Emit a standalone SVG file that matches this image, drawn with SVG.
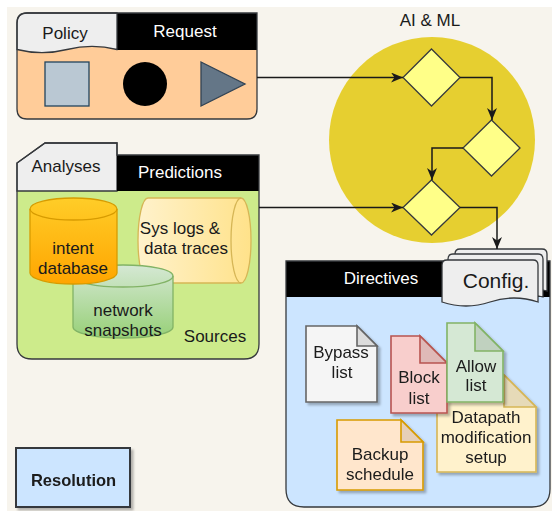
<svg xmlns="http://www.w3.org/2000/svg" width="552" height="511" viewBox="0 0 552 511">
  <defs>
    <style>
      text { font-family: "Liberation Sans", Arial, sans-serif; font-size: 17px; fill: #1a1a1a; text-anchor: middle; }
      .hdr { fill: #ffffff; }
      .bold { font-weight: bold; }
      .outline { fill: none; stroke: #36393d; stroke-width: 1.3; }
      .wire { fill: none; stroke: #1a1a1a; stroke-width: 1.5; marker-end: url(#arrow); }
      .diamond { fill: #ffff88; stroke: #36393d; stroke-width: 1.3; }
      .doc { stroke-width: 1.6; }
      .cfg { fill: #eeeeee; stroke: #36393d; stroke-width: 1.3; }
    </style>
    <marker id="arrow" markerUnits="userSpaceOnUse" markerWidth="13" markerHeight="11" refX="12" refY="5" orient="auto">
      <path d="M0,0 L12,5 L0,10 L3.5,5 Z" fill="#1a1a1a"/>
    </marker>
    <linearGradient id="gOrange" x1="0" y1="0" x2="0" y2="1">
      <stop offset="0" stop-color="#ffcd28"/>
      <stop offset="1" stop-color="#ffa500"/>
    </linearGradient>
    <linearGradient id="gGreen" x1="0" y1="0" x2="0" y2="1">
      <stop offset="0" stop-color="#d5e8d4"/>
      <stop offset="1" stop-color="#97d077"/>
    </linearGradient>
    <linearGradient id="gYellow" x1="0" y1="0" x2="1" y2="0">
      <stop offset="0" stop-color="#fff2cc"/>
      <stop offset="1" stop-color="#ffe28a"/>
    </linearGradient>
    <filter id="shadow" x="-10%" y="-10%" width="130%" height="130%">
      <feDropShadow dx="2.5" dy="2.5" stdDeviation="0.8" flood-color="#000" flood-opacity="0.28"/>
    </filter>
  </defs>

  <!-- page -->
  <rect x="0" y="0" width="552" height="511" fill="#ffffff"/>
  <rect x="7" y="7" width="545" height="504" fill="#f7f4ed"/>

  <!-- AI & ML area -->
  <g id="ai-ml">
    <circle cx="432" cy="140" r="103" fill="#e6cf30"/>
    <text x="430" y="26">AI &amp; ML</text>
  </g>

  <!-- Policy / Request container -->
  <g id="request">
    <path d="M27,13 L257,13 L257,109 Q257,119 247,119 L27,119 Q17,119 17,109 L17,23 Q17,13 27,13 Z" fill="#ffcc99"/>
    <rect x="116" y="13" width="141" height="37" fill="#000000"/>
    <path d="M17,49.5 L17,23 Q17,13 27,13 L117,13 L117,49.5 Q92,43.2 67,49.5 Q42,55.8 17,49.5 Z" fill="#eeeeee" stroke="#36393d" stroke-width="1.3"/>
    <path class="outline" d="M27,13 L257,13 L257,109 Q257,119 247,119 L27,119 Q17,119 17,109 L17,23 Q17,13 27,13 Z"/>
    <text x="65" y="39">Policy</text>
    <text class="hdr" x="185" y="37">Request</text>
    <rect x="45" y="62" width="44" height="44" fill="#bac8d3" stroke="#23445d" stroke-width="1.3"/>
    <circle cx="145" cy="84" r="22" fill="#000000"/>
    <path d="M201,62 L245,84 L201,106 Z" fill="#647687" stroke="#314354" stroke-width="1.3"/>
  </g>

  <!-- Analyses / Predictions container -->
  <g id="predictions">
    <path d="M17,163 L45,143 L117,143 L117,155 L259,155 L259,344 Q259,359 244,359 L32,359 Q17,359 17,344 Z" fill="#cdeb8b"/>
    <path d="M17,191 L17,163 L45,143 L117,143 L117,191 Z" fill="#eeeeee" stroke="#36393d" stroke-width="1.3"/>
    <rect x="117" y="155" width="142" height="36" fill="#000000"/>
    <path class="outline" d="M17,163 L45,143 L117,143 L117,155 L259,155 L259,344 Q259,359 244,359 L32,359 Q17,359 17,344 Z"/>
    <text x="66" y="172">Analyses</text>
    <text class="hdr" x="180" y="178">Predictions</text>
    <text x="215" y="342">Sources</text>
  </g>

  <g id="sys-logs">
    <path d="M148,198 L241,198 A10,42.5 0 0 1 241,283 L148,283 A10,42.5 0 0 1 148,198 Z" fill="url(#gYellow)" stroke="#d6b656" stroke-width="1.3"/>
    <path d="M241,198 A10,42.5 0 0 0 241,283" fill="none" stroke="#d6b656" stroke-width="1.3"/>
    <text x="180" y="234">Sys logs &amp;</text>
    <text x="186" y="254">data traces</text>
  </g>

  <g id="network-snapshots">
    <path d="M73,276 A50,11 0 0 1 173,276 L173,327 A50,11 0 0 1 73,327 Z" fill="url(#gGreen)" stroke="#82b366" stroke-width="1.3"/>
    <path d="M73,276 A50,11 0 0 0 173,276" fill="none" stroke="#82b366" stroke-width="1.3"/>
    <text x="123" y="316">network</text>
    <text x="123" y="336">snapshots</text>
  </g>

  <g id="intent-db">
    <path d="M30,209 A43.5,11 0 0 1 117,209 L117,273 A43.5,11 0 0 1 30,273 Z" fill="url(#gOrange)" stroke="#d79b00" stroke-width="1.3"/>
    <path d="M30,209 A43.5,11 0 0 0 117,209" fill="none" stroke="#d79b00" stroke-width="1.3"/>
    <text x="73" y="254">intent</text>
    <text x="73" y="274">database</text>
  </g>

  <!-- decision steps -->
  <g id="step-1"><path class="diamond" d="M431.5,49 L460,77.5 L431.5,106 L403,77.5 Z"/></g>
  <g id="step-2"><path class="diamond" d="M491.5,120 L520,148 L491.5,176 L463,148 Z"/></g>
  <g id="step-3"><path class="diamond" d="M431.5,180 L460,207.5 L431.5,235 L403,207.5 Z"/></g>

  <!-- Directives container -->
  <g id="directives">
    <path d="M286,261 L550,261 L550,489 Q550,507 532,507 L304,507 Q286,507 286,489 Z" fill="#cce5ff"/>
    <rect x="286" y="261" width="264" height="36" fill="#000000"/>
    <path class="outline" d="M286,261 L550,261 L550,489 Q550,507 532,507 L304,507 Q286,507 286,489 Z"/>
    <text class="hdr" x="381" y="284">Directives</text>
  </g>

  <g id="config">
    <path class="cfg" d="M455,254 Q455,249 460,249 L542,249 Q547,249 547,254 L547,291 Q524,284 501,291 Q478,298 455,291 Z"/>
    <path class="cfg" d="M448,259 Q448,254 453,254 L538,254 Q543,254 543,259 L543,297 Q519,290 495,297 Q472,304 448,297 Z"/>
    <path class="cfg" d="M442,265 Q442,260 447,260 L533,260 Q538,260 538,265 L538,302 Q514,294 490,302 Q466,310 442,302 Z"/>
    <text x="496" y="288" style="font-size:21px">Config.</text>
  </g>

  <g id="bypass-list" filter="url(#shadow)">
    <path class="doc" d="M306,326 L357,326 L377,346 L377,402 L306,402 Z" fill="#f5f5f5" stroke="#666666"/>
    <path class="doc" d="M357,326 L357,346 L377,346 Z" fill="#dcdcdc" stroke="#666666"/>
    <text x="341" y="358">Bypass</text>
    <text x="342" y="378">list</text>
  </g>

  <g id="datapath-setup" filter="url(#shadow)">
    <path class="doc" d="M437,375 L504,375 L536,407 L536,472 L437,472 Z" fill="#fff2cc" stroke="#d6b656"/>
    <path class="doc" d="M504,375 L504,407 L536,407 Z" fill="#e6dab8" stroke="#d6b656"/>
    <text x="486" y="423">Datapath</text>
    <text x="486" y="443">modification</text>
    <text x="486" y="463">setup</text>
  </g>

  <g id="block-list" filter="url(#shadow)">
    <path class="doc" d="M391,336 L420,336 L447,363 L447,413 L391,413 Z" fill="#f8cecc" stroke="#b85450"/>
    <path class="doc" d="M420,336 L420,363 L447,363 Z" fill="#dfb9b7" stroke="#b85450"/>
    <text x="419" y="383">Block</text>
    <text x="419" y="404">list</text>
  </g>

  <g id="allow-list" filter="url(#shadow)">
    <path class="doc" d="M447,323 L475,323 L503,351 L503,402 L447,402 Z" fill="#d5e8d4" stroke="#82b366"/>
    <path class="doc" d="M475,323 L475,351 L503,351 Z" fill="#c0d1bf" stroke="#82b366"/>
    <text x="476" y="372">Allow</text>
    <text x="476" y="391">list</text>
  </g>

  <g id="backup-schedule" filter="url(#shadow)">
    <path class="doc" d="M337,420 L401,420 L423,442 L423,490 L337,490 Z" fill="#ffe6cc" stroke="#d79b00"/>
    <path class="doc" d="M401,420 L401,442 L423,442 Z" fill="#e6cfb8" stroke="#d79b00"/>
    <text x="380" y="460">Backup</text>
    <text x="380" y="480">schedule</text>
  </g>

  <g id="resolution" filter="url(#shadow)">
    <rect x="16" y="448" width="114" height="59" fill="#cce5ff" stroke="#36393d" stroke-width="2"/>
    <text class="bold" x="73.5" y="486" style="font-size:16.5px">Resolution</text>
  </g>

  <!-- connectors -->
  <g id="connectors">
    <path class="wire" d="M257,77.5 L403,77.5"/>
    <path class="wire" d="M460,77.5 L492,77.5 L492,120"/>
    <path class="wire" d="M463,148 L432,148 L432,180"/>
    <path class="wire" d="M259,207.5 L403,207.5"/>
    <path class="wire" d="M460,207.5 L497,207.5 L497,249"/>
  </g>
</svg>
